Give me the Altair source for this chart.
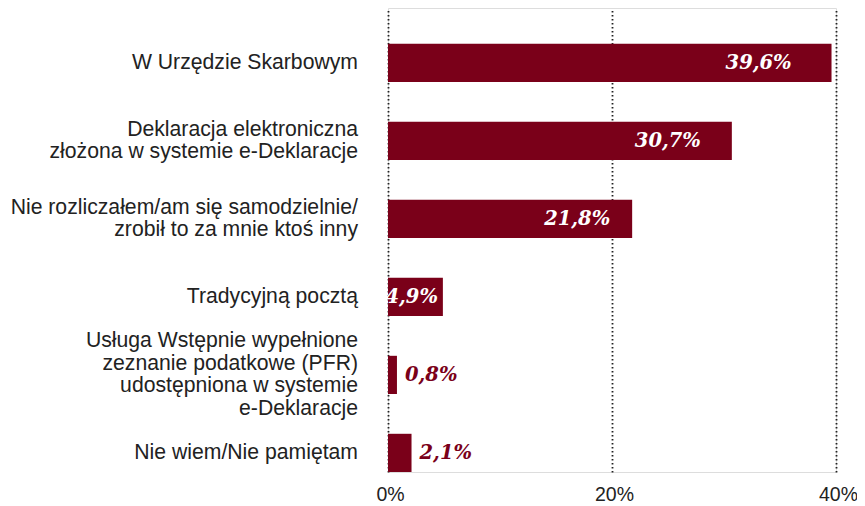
import altair as alt
import pandas as pd

categories = [
    "W Urzędzie Skarbowym",
    "Deklaracja elektroniczna|złożona w systemie e-Deklaracje",
    "Nie rozliczałem/am się samodzielnie/|zrobił to za mnie ktoś inny",
    "Tradycyjną pocztą",
    "Usługa Wstępnie wypełnione|zeznanie podatkowe (PFR)|udostępniona w systemie|e-Deklaracje",
    "Nie wiem/Nie pamiętam",
]
values = [39.6, 30.7, 21.8, 4.9, 0.8, 2.1]
labels = ["39,6%", "30,7%", "21,8%", "4,9%", "0,8%", "2,1%"]
tick_values = [0, 20, 40]

df = pd.DataFrame({"cat": categories, "value": values, "label": labels})
df["nlines"] = df["cat"].str.count(r"\|") + 1

RED = "#7a0019"
TXT = "#222222"
sans = "Liberation Sans"
serif = "DejaVu Serif"
LH = 22.5
FS = 21.2

y_enc = alt.Y(
    "cat:N",
    sort=categories,
    scale=alt.Scale(paddingInner=0.51, paddingOuter=0.23, align=1),
    axis=None,
)

x_scale = alt.Scale(domain=[0, 40], nice=False)

bars = alt.Chart(df).mark_bar(color=RED).encode(
    x=alt.X(
        "value:Q", scale=x_scale,
        axis=alt.Axis(
            title=None, values=tick_values, domain=False, ticks=False,
            labelExpr="datum.value + '%'", labelFont=sans, labelFontSize=19.5,
            labelColor=TXT, labelPadding=13, labelOffset=2, labelFlush=False,
            grid=True, gridColor="#222", gridDash=[1.5, 2.5], gridWidth=1.8,
        ),
    ),
    y=y_enc,
)

cat_layers = []
for n in sorted(df["nlines"].unique()):
    cat_layers.append(
        alt.Chart(df).transform_filter(f"datum.nlines == {n}").transform_calculate(
            txt="split(datum.cat, '|')"
        ).mark_text(
            align="right", baseline="middle", font=sans, fontSize=FS,
            color=TXT, lineHeight=LH, dx=-30, dy=-(n - 1) * LH / 2,
        ).encode(
            x=alt.value(0),
            y=alt.Y("cat:N", sort=categories),
            text="txt:N",
        )
    )

inside = alt.Chart(df).transform_filter("datum.value > 3").transform_calculate(
    lx="datum.value * 0.91"
).mark_text(
    align="right", baseline="middle", font=serif, fontSize=19.5,
    fontWeight="bold", fontStyle="italic", color="white",
).encode(
    x=alt.X("lx:Q", scale=x_scale),
    y=alt.Y("cat:N", sort=categories),
    text="label:N",
)

outside = alt.Chart(df).transform_filter("datum.value <= 3").mark_text(
    align="left", baseline="middle", dx=8, font=serif, fontSize=19.5,
    fontWeight="bold", fontStyle="italic", color=RED,
).encode(
    x=alt.X("value:Q", scale=x_scale),
    y=alt.Y("cat:N", sort=categories),
    text="label:N",
)

chart = alt.layer(bars, *cat_layers, inside, outside).properties(
    width=448, height=464,
    autosize=alt.AutoSizeParams(type="none"),
    padding={"left": 380, "top": 0, "right": 21, "bottom": 33},
).configure_view(stroke=None).configure(background="white")

chart.save("out.html", embed_options={"renderer": "svg", "actions": False})
